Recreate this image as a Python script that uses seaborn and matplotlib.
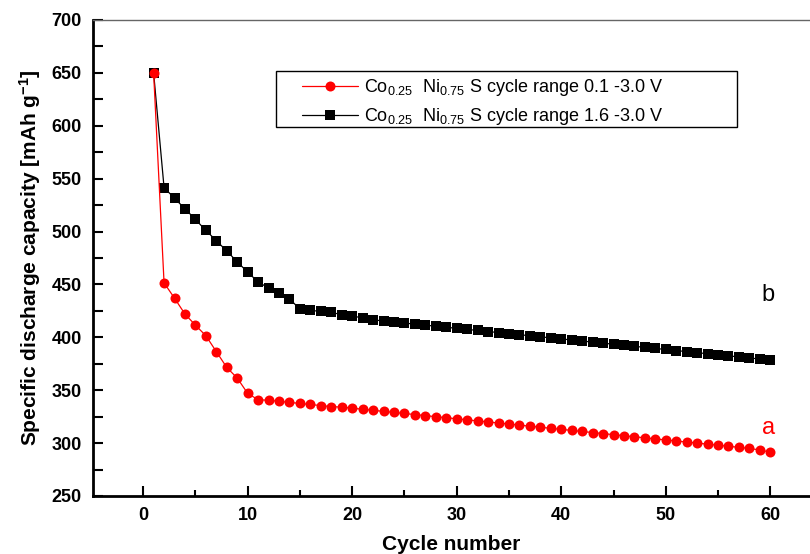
import numpy as np
import pandas as pd
import matplotlib
matplotlib.use('Agg')
import matplotlib.pyplot as plt
import seaborn as sns
from matplotlib.ticker import MultipleLocator
from matplotlib.patches import Rectangle

# Datos
cycles = list(range(1, 61))
cap_01_30 = [650, 451.5, 437, 422, 411.5, 401.5, 386.5, 371.5, 361.5, 347,
             341, 340.5, 339.5, 338.5, 337.5, 336.5, 335.5, 334.5, 334, 333,
             332, 331, 330, 329, 328, 327, 326, 325, 324, 323,
             322, 321, 320, 319, 318, 317, 316, 315, 314, 313,
             312, 311, 310, 309, 308, 307, 306, 305, 304, 303,
             302, 301, 300, 299, 298, 297, 296, 295, 293.5, 291.5]
cap_16_30 = [650, 541.5, 531.5, 521.5, 511.5, 501, 491.5, 481.5, 471.5, 461.5,
             452.5, 446.5, 441.5, 436.5, 426.5, 425.5, 424.5, 423.5, 421.5, 420,
             418.5, 416.5, 415.5, 414.5, 413.5, 412.5, 411.5, 410.5, 409.5, 408.5,
             407.5, 406.5, 405.5, 404.5, 403.5, 402.5, 401.5, 400.5, 399.5, 398.5,
             397.5, 396.5, 395.5, 394.5, 393.5, 392.5, 391.5, 390.5, 389.5, 388.5,
             387.5, 386.5, 385.5, 384.5, 383.5, 382.5, 381.5, 380.5, 379.5, 378.5]

lbl_a = r'Co$_{0.25}$  Ni$_{0.75}$ S cycle range 0.1 -3.0 V'
lbl_b = r'Co$_{0.25}$  Ni$_{0.75}$ S cycle range 1.6 -3.0 V'

df = pd.DataFrame({'ciclo': cycles, 'a': cap_01_30, 'b': cap_16_30})

sns.set_style('ticks')
plt.rcParams['font.family'] = ['Liberation Sans', 'DejaVu Sans']
plt.rcParams['mathtext.fontset'] = 'custom'
plt.rcParams['mathtext.rm'] = 'Liberation Sans'
plt.rcParams['mathtext.it'] = 'Liberation Sans'
plt.rcParams['mathtext.bf'] = 'Liberation Sans:bold'
plt.rcParams['mathtext.default'] = 'regular'
for k in ['text.color', 'axes.labelcolor', 'xtick.color', 'ytick.color']:
    plt.rcParams[k] = 'black'

fig = plt.figure(figsize=(8.1, 5.54), dpi=100)
ax = fig.add_axes([0.1148, 0.1047, 0.8852, 0.8592])

sns.lineplot(data=df, x='ciclo', y='b', ax=ax, color='black', marker='s',
             markersize=6.5, markeredgewidth=0, linewidth=0.9, label=lbl_b, zorder=2)
sns.lineplot(data=df, x='ciclo', y='a', ax=ax, color='red', marker='o',
             markersize=7.2, markeredgewidth=0, linewidth=0.9, label=lbl_a, zorder=3)

ax.set_xlim(-4.8, 63.8)
ax.set_ylim(250, 700)
ax.xaxis.set_major_locator(MultipleLocator(10))
ax.xaxis.set_minor_locator(MultipleLocator(5))
ax.yaxis.set_major_locator(MultipleLocator(50))
ax.yaxis.set_minor_locator(MultipleLocator(25))
ax.tick_params(which='both', direction='in', width=1.5, top=False, right=False)
ax.tick_params(which='major', length=7, labelsize=13, pad=8)
ax.tick_params(which='minor', length=4)
ax.tick_params(axis='y', which='minor', length=7)
for t in ax.get_xticklabels() + ax.get_yticklabels():
    t.set_fontweight('bold')

for s in ['left', 'bottom']:
    ax.spines[s].set_linewidth(2)
    ax.spines[s].set_color('black')
ax.spines['top'].set_linewidth(1)
ax.spines['top'].set_color('#666666')
ax.spines['right'].set_visible(False)

ax.set_xlabel('Cycle number', fontsize=15, fontweight='bold', labelpad=8)
ax.set_ylabel(r'Specific discharge capacity [mAh g$^{\mathbf{-1}}$]', fontsize=15,
              fontweight='bold', labelpad=6)

ax.text(59.8, 440, 'b', fontsize=17, color='black', ha='center', va='center')
ax.text(59.8, 314, 'a', fontsize=17, color='red', ha='center', va='center')

# Leyenda sin marco + marco dibujado aparte (más ancho, como en el original)
handles, labels = ax.get_legend_handles_labels()
leg = ax.legend(handles[::-1], labels[::-1], loc='upper left',
                bbox_to_anchor=(302 / 810, 1 - 77 / 554), bbox_transform=fig.transFigure,
                borderaxespad=0, frameon=False, fontsize=13, handlelength=3.1,
                handletextpad=0.35, labelspacing=0.45, borderpad=0)
fig.patches.append(Rectangle((276 / 810, 1 - 127 / 554), 461 / 810, 56 / 554,
                             transform=fig.transFigure, fill=False,
                             edgecolor='black', linewidth=1, zorder=5))

fig.savefig('out.png', dpi=100)
